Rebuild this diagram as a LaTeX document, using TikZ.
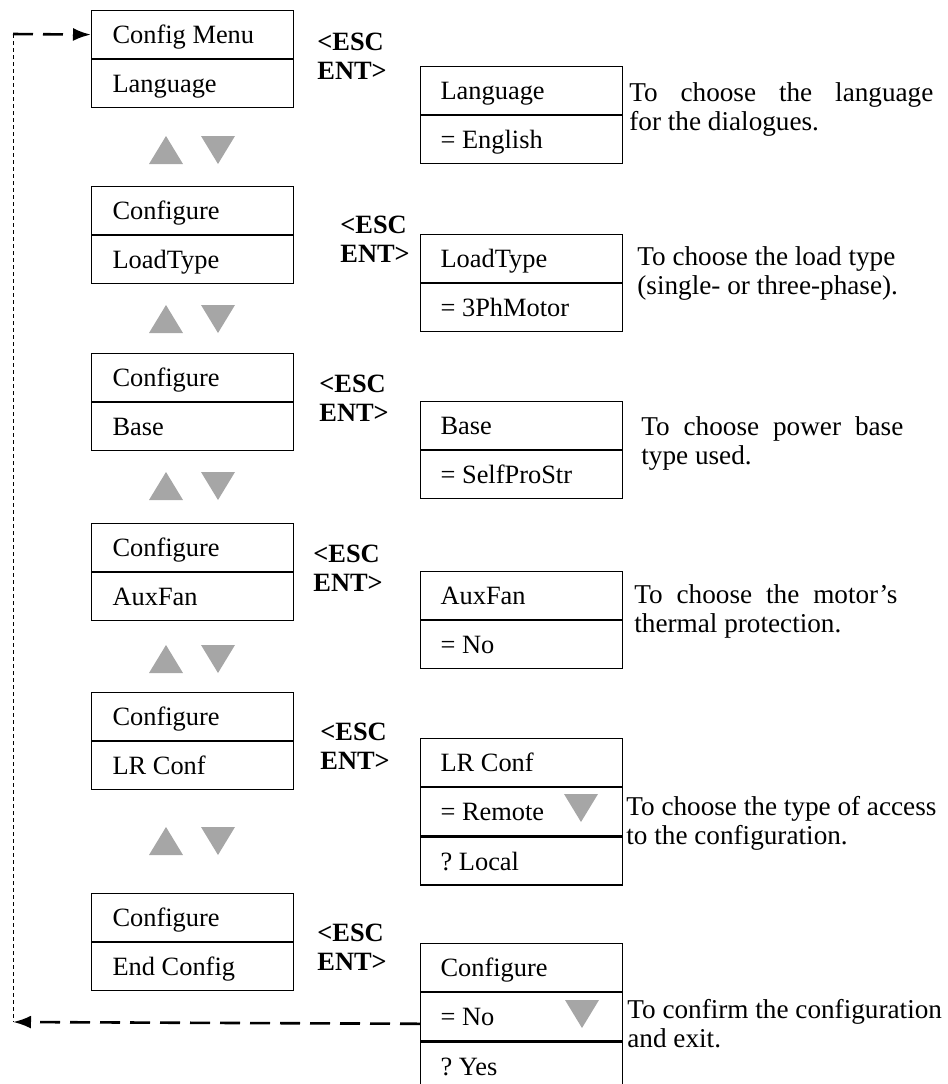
\documentclass[tikz,border=0pt]{standalone}
\usepackage{fontspec}
\setmainfont{Liberation Serif}
\usetikzlibrary{positioning,arrows.meta}

\definecolor{keygray}{RGB}{166,166,166}

% arrow keys, in pixel units
\newcommand{\keyup}[3]{\fill[keygray] (#1-#3,#2+14) -- (#1+#3,#2+14) -- (#1,#2-14) -- cycle;}
\newcommand{\keydown}[3]{\fill[keygray] (#1-#3,#2-14) -- (#1+#3,#2-14) -- (#1,#2+14) -- cycle;}
\newcommand{\spreadline}[2]{\makebox[#1][s]{#2}}
\frenchspacing

\tikzset{
  txt/.style={font=\fontsize{13.2}{14.5}\selectfont},
  row/.style={txt, draw, line width=0.6pt, rectangle, anchor=north west,
    minimum height=24pt, inner ysep=0pt, text height=10pt, text depth=1pt, align=justify},
  leftrow/.style={row, text width=80pt, inner xsep=10.5pt},
  rightrow/.style={row, text width=81pt, inner xsep=10pt},
  esc/.style={font=\fontsize{13.2}{14.5}\selectfont\bfseries, anchor=base west,
    inner sep=0pt, text width=40pt, align=left},
  note/.style={font=\fontsize{13.6}{14.75}\selectfont, anchor=base west, inner sep=0pt,
    text width=170pt, align=justify},
  dasharrow/.style={line width=1.3pt, dash pattern=on 10pt off 5pt,
    -{Latex[length=9pt,width=6.5pt]}},
  dotline/.style={line width=0.5pt, dash pattern=on 2pt off 1.5pt}
}

\begin{document}
\begin{tikzpicture}[x=0.5pt, y=-0.5pt]
\useasboundingbox (0,0) rectangle (948,1084);

% Menu column
\node[leftrow] (b1t) at (91,10) {Config Menu};
\node[leftrow, below=0pt of b1t] (b1b) {Language};
\node[leftrow] (b2t) at (91,186) {Configure};
\node[leftrow, below=0pt of b2t] (b2b) {LoadType};
\node[leftrow] (b3t) at (91,353) {Configure};
\node[leftrow, below=0pt of b3t] (b3b) {Base};
\node[leftrow] (b4t) at (91,523) {Configure};
\node[leftrow, below=0pt of b4t] (b4b) {AuxFan};
\node[leftrow] (b5t) at (91,692) {Configure};
\node[leftrow, below=0pt of b5t] (b5b) {LR Conf};
\node[leftrow] (b6t) at (91,893) {Configure};
\node[leftrow, below=0pt of b6t] (b6b) {End Config};

% Up / down keys between menu entries
\foreach \ky in {150,319,486,659,841} {
  \keyup{166}{\ky}{17}
  \keydown{218}{\ky}{17}
}

% Key labels
\node[esc] (e1) at (317,50) {<ESC\\ENT>};
\node[esc] (e2) at (340,233) {<ESC\\ENT>};
\node[esc] (e3) at (319,392) {<ESC\\ENT>};
\node[esc] (e4) at (313,562) {<ESC\\ENT>};
\node[esc] (e5) at (320,740) {<ESC\\ENT>};
\node[esc] (e6) at (317,941) {<ESC\\ENT>};

% Parameter column
\node[rightrow] (r1t) at (420,66) {Language};
\node[rightrow, below=0pt of r1t] (r1b) {= English};
\node[rightrow] (r2t) at (420,234) {LoadType};
\node[rightrow, below=0pt of r2t] (r2b) {= 3PhMotor};
\node[rightrow] (r3t) at (420,401) {Base};
\node[rightrow, below=0pt of r3t] (r3b) {= SelfProStr};
\node[rightrow] (r4t) at (420,571) {AuxFan};
\node[rightrow, below=0pt of r4t] (r4b) {= No};
\node[rightrow] (r5t) at (420,738) {LR Conf};
\node[rightrow, below=0pt of r5t] (r5b) {= Remote};
\node[rightrow, below=0pt of r5b] (r5c) {? Local};
\node[rightrow] (r6t) at (420,943) {Configure};
\node[rightrow, below=0pt of r6t] (r6b) {= No};
\node[rightrow, below=0pt of r6b] (r6c) {? Yes};

\keydown{581}{808}{17}
\keydown{582}{1014}{17}

% Descriptions
\node[note] (d1) at (629,101) {\spreadline{152pt}{To choose the language}\\for the dialogues.};
\node[note] (d2) at (637,265) {To choose the load type\\(single- or three-phase).};
\node[note] (d3) at (641,435) {\spreadline{131pt}{To choose power base}\\type used.};
\node[note] (d4) at (634,603) {\spreadline{131.5pt}{To choose the motor's}\\thermal protection.};
\node[note] (d5) at (626,815) {To choose the type of access\\to the configuration.};
\node[note] (d6) at (627,1018) {To confirm the configuration\\and exit.};

% Return path
\coordinate (topleft) at (13,34);
\coordinate (botleft) at (13,1022);
\draw[dotline] (topleft) -- (botleft);
\draw[dasharrow] (topleft) -- (b1t.west);
\draw[dasharrow] ([yshift=-3.5pt]r6b.west) -- (botleft);

\end{tikzpicture}
\end{document}
